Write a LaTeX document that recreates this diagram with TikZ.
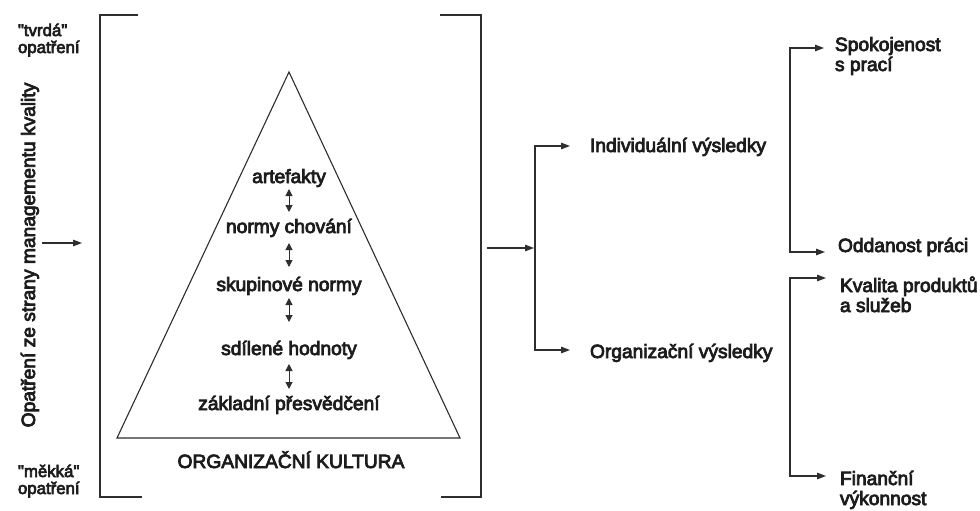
\documentclass[tikz,border=0pt]{standalone}
\usepackage{fontspec}
\setmainfont{Liberation Sans}
\newfontfamily\heavy{Liberation Sans}[FakeBold=4]
\usetikzlibrary{arrows.meta,calc}
\definecolor{ink}{HTML}{1C1C1C}
\definecolor{linec}{HTML}{2E2E2E}

\begin{document}
\begin{tikzpicture}[x=1pt,y=-1pt,
  every node/.style={inner sep=0pt, outer sep=0pt, text=ink},
  lbl/.style={font=\heavy\fontsize{19.2}{20}\selectfont},
  sidetext/.style={font=\heavy\fontsize{16.8}{17}\selectfont, align=left, anchor=base west},
  outtxt/.style={lbl, align=left, anchor=base west},
  pyrtext/.style={lbl, anchor=base},
  bracketline/.style={draw=linec, line width=1.5pt},
  arr/.style={draw=linec, line width=1.2pt, -{Triangle[length=9pt,width=6.5pt]}},
  darr/.style={draw=linec, line width=1pt, {Triangle[length=7pt,width=7pt]}-{Triangle[length=7pt,width=7pt]}},
]
\useasboundingbox[fill=white] (0,0) rectangle (980,511);

% left-hand labels (anchored on the baseline of their last line)
\node[sidetext] (hard) at (18,53) {\textquotedbl tvrdá\textquotedbl\\opatření};
\node[sidetext] (soft) at (18,494) {\textquotedbl měkká\textquotedbl\\opatření};
\node[lbl, anchor=base, rotate=90] (qm) at (35,255) {Opatření ze strany managementu kvality};

% brackets around the culture block
\draw[bracketline] (138,15) -- (100,15) -- (100,497) -- (142,497);
\draw[bracketline] (440,15) -- (481,15) -- (481,497) -- (441,497);

% culture pyramid
\draw[draw=linec, line width=1.1pt, line join=miter] (289,72) -- (460,438) -- (117,438) -- cycle;
\node[pyrtext] (art) at (289,183) {artefakty};
\node[pyrtext] (nch) at (289,233) {normy chování};
\node[pyrtext] (skn) at (289,291) {skupinové normy};
\node[pyrtext] (sdh) at (289,355) {sdílené hodnoty};
\node[pyrtext] (zak) at (289,410) {základní přesvědčení};
\node[pyrtext] (ok) at (291,468) {ORGANIZAČNÍ KULTURA};

\draw[darr] ($(art.base)+(0,6)$) -- ($(nch.base)+(0,-21)$);
\draw[darr] ($(nch.base)+(0,10)$) -- ($(skn.base)+(0,-24)$);
\draw[darr] ($(skn.base)+(0,7)$) -- ($(sdh.base)+(0,-33)$);
\draw[darr] ($(sdh.base)+(0,9)$) -- ($(zak.base)+(0,-21)$);

% input arrow
\coordinate (lb) at (82,243);
\draw[arr] ($(qm.base)+(7,-12)$) -- (lb);

% outcomes
\node[lbl, anchor=base west] (ind) at (590,152) {Individuální výsledky};
\node[lbl, anchor=base west] (org) at (590,358) {Organizační výsledky};

\node[outtxt] (spok) at (835,71) {Spokojenost\\s prací};
\node[outtxt] (odd) at (838,252) {Oddanost práci};
\node[outtxt] (kval) at (840,312) {Kvalita produktů\\a služeb};
\node[outtxt] (fin) at (840,505) {Finanční\\výkonnost};

% first fork
\coordinate (rb) at (487,248);
\coordinate (f1) at (535,248);
\draw[arr, shorten >=1pt] (rb) -- (f1);
\draw[arr] (f1) |- ($(ind.base west)+(-20,-6)$);
\draw[arr] (f1) |- ($(org.base west)+(-20,-8)$);

% second-level forks
\coordinate (f2) at (790,150);
\draw[arr] (f2) |- ($(spok.base west)+(-11,-23)$);
\draw[arr] (f2) |- ($(odd.base west)+(-13,0)$);

\coordinate (f3) at (790,380);
\draw[arr] (f3) |- ($(kval.base west)+(-14,-34)$);
\draw[arr] (f3) |- ($(fin.base west)+(-14,-29)$);
\end{tikzpicture}
\end{document}
